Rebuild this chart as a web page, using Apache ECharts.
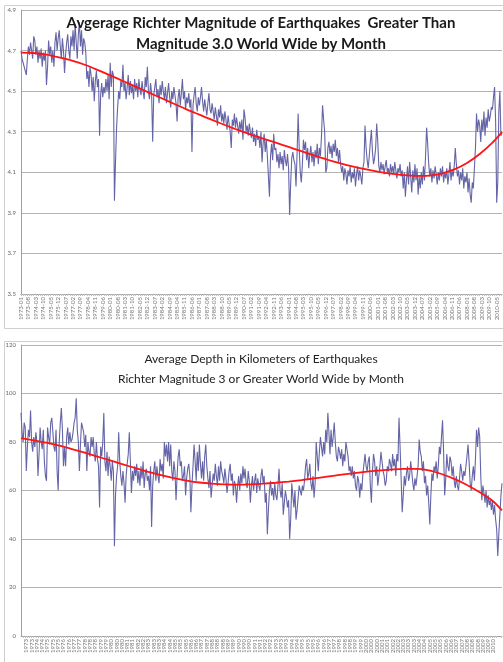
<!DOCTYPE html>
<html>
<head>
<meta charset="utf-8">
<script src="https://cdn.jsdelivr.net/npm/echarts@6/dist/echarts.min.js"></script>
<style>
html,body{margin:0;padding:0;background:#fff;}
#c{width:503px;height:662px;}
</style>
</head>
<body>
<div id="c"></div>
<script>
// ---- data (monthly, starting 1973-01) ----
const START_YEAR = 1973;
const titleTop = ['Avgerage Richter Magnitude of Earthquakes  Greater Than', 'Magnitude 3.0 World Wide by Month'];
const titleBottom = ['Average Depth in Kilometers of Earthquakes', 'Richter Magnitude 3 or Greater World Wide by Month'];

const magnitude = [
  4.70,4.66,4.64,4.62,4.60,4.58,4.66,4.72,4.68,4.74,4.70,4.66, // 1973
  4.77,4.75,4.68,4.72,4.64,4.70,4.66,4.71,4.62,4.69,4.65,4.70, // 1974
  4.53,4.62,4.75,4.68,4.72,4.64,4.70,4.62,4.74,4.79,4.70,4.76, // 1975
  4.80,4.72,4.66,4.76,4.70,4.59,4.68,4.74,4.78,4.70,4.66,4.77, // 1976
  4.72,4.80,4.70,4.83,4.74,4.66,4.78,4.84,4.72,4.80,4.68,4.76, // 1977
  4.74,4.69,4.56,4.60,4.52,4.62,4.58,4.50,4.57,4.45,4.55,4.60, // 1978
  4.52,4.56,4.28,4.48,4.54,4.47,4.52,4.49,4.56,4.50,4.58,4.46, // 1979
  4.64,4.52,4.60,4.58,3.96,4.15,4.32,4.42,4.50,4.46,4.55,4.52, // 1980
  4.63,4.50,4.54,4.46,4.52,4.58,4.48,4.55,4.49,4.53,4.46,4.56, // 1981
  4.50,4.54,4.47,4.56,4.51,4.48,4.55,4.50,4.46,4.57,4.52,4.62, // 1982
  4.50,4.46,4.54,4.49,4.25,4.48,4.52,4.56,4.47,4.51,4.44,4.53, // 1983
  4.48,4.55,4.50,4.46,4.52,4.44,4.49,4.54,4.47,4.42,4.50,4.46, // 1984
  4.52,4.48,4.44,4.35,4.47,4.51,4.43,4.49,4.56,4.46,4.50,4.41, // 1985
  4.47,4.44,4.49,4.42,4.46,4.20,4.43,4.48,4.52,4.44,4.40,4.47, // 1986
  4.43,4.47,4.52,4.45,4.40,4.46,4.42,4.38,4.44,4.49,4.41,4.39, // 1987
  4.44,4.40,4.36,4.42,4.38,4.33,4.41,4.37,4.43,4.35,4.39,4.34, // 1988
  4.40,4.36,4.31,4.38,4.34,4.30,4.22,4.36,4.33,4.39,4.32,4.37, // 1989
  4.33,4.29,4.35,4.31,4.36,4.26,4.41,4.37,4.30,4.33,4.28,4.34, // 1990
  4.30,4.27,4.32,4.25,4.29,4.23,4.31,4.26,4.28,4.22,4.30,4.15, // 1991
  4.24,4.29,4.20,4.26,4.18,4.08,3.98,4.18,4.24,4.16,4.29,4.21, // 1992
  4.22,4.15,4.19,4.12,4.20,4.14,4.18,4.11,4.21,4.16,4.13,4.19, // 1993
  4.12,3.89,4.05,4.17,4.20,4.16,4.14,4.03,4.19,4.39,4.22,4.10, // 1994
  4.05,4.14,4.26,4.21,4.25,4.16,4.22,4.12,4.19,4.23,4.15,4.20, // 1995
  4.13,4.21,4.17,4.24,4.14,4.22,4.18,4.28,4.43,4.36,4.30,4.10, // 1996
  4.12,4.22,4.25,4.19,4.23,4.17,4.24,4.20,4.26,4.18,4.22,4.15, // 1997
  4.21,4.14,4.10,4.13,4.06,4.12,4.09,4.04,4.11,4.08,4.13,4.05, // 1998
  4.10,4.07,4.12,4.03,4.09,4.13,4.06,4.11,4.08,4.04,4.12,4.15, // 1999
  4.33,4.22,4.16,4.12,4.18,4.25,4.31,4.20,4.14,4.17,4.22,4.34, // 2000
  4.25,4.13,4.10,4.15,4.11,4.14,4.09,4.13,4.16,4.10,4.12,4.08, // 2001
  4.14,4.10,4.13,4.09,4.15,4.11,4.07,4.12,4.10,4.14,4.08,4.11, // 2002
  4.02,4.10,3.98,4.06,4.13,4.04,4.15,4.08,4.00,4.11,4.05,4.14, // 2003
  4.06,4.12,3.99,4.08,4.02,4.10,4.04,4.13,4.06,4.18,4.32,4.24, // 2004
  4.14,4.08,4.12,4.05,4.11,4.07,4.13,4.09,4.04,4.10,4.06,4.12, // 2005
  4.08,4.13,4.05,4.10,4.07,4.12,4.04,4.09,4.15,4.06,4.11,4.08, // 2006
  4.13,4.22,4.14,4.08,4.11,4.04,4.10,4.06,4.12,4.02,4.08,4.05, // 2007
  4.10,4.00,4.07,3.99,3.95,4.05,4.02,4.12,4.22,4.39,4.30,4.36, // 2008
  4.33,4.25,4.36,4.30,4.40,4.28,4.37,4.32,4.41,4.35,4.38,4.42, // 2009
  4.41,4.47,4.52,4.35,3.95,4.05,4.40,4.50,4.28,4.30            // 2010
];

// polynomial trend line, read once per year (January) plus the last month
const magnitudeTrend = [4.690,4.688,4.680,4.666,4.650,4.630,4.605,4.578,4.550,4.522,4.494,4.466,4.438,4.410,4.384,4.358,
  4.333,4.309,4.287,4.266,4.246,4.225,4.204,4.183,4.163,4.145,4.129,4.115,4.103,4.093,4.086,4.082,4.084,4.094,4.114,4.146,
  4.190,4.246,4.298];

const depth = [
  92,84,80,88,86,68,78,85,82,93,80,76, // 1973
  82,78,84,80,66,75,86,80,77,85,72,66, // 1974
  64,86,82,79,88,90,84,78,76,85,68,60, // 1975
  80,88,94,85,70,78,70,82,86,79,84,80, // 1976
  81,84,88,90,98,85,80,68,79,88,86,84, // 1977
  78,83,68,80,76,74,82,78,82,75,72,80, // 1978
  73,70,53,78,74,80,92,72,68,76,66,74, // 1979
  70,64,72,68,37,58,66,70,84,72,66,62, // 1980
  68,63,55,66,71,75,84,72,59,68,64,70, // 1981
  66,71,63,68,62,70,65,72,61,67,69,64, // 1982
  66,60,70,45,62,68,72,64,70,66,63,73, // 1983
  68,71,65,80,74,79,72,80,70,79,68,64, // 1984
  72,68,56,66,74,77,70,72,64,66,70,58, // 1985
  65,69,71,66,51,62,70,79,72,64,76,68, // 1986
  79,71,65,72,64,74,79,70,65,61,68,57, // 1987
  62,67,64,71,66,62,70,64,72,68,66,63, // 1988
  69,65,59,63,68,71,64,67,58,64,62,55, // 1989
  62,66,60,67,63,70,65,69,63,61,68,64, // 1990
  55,62,66,60,64,67,59,65,62,60,66,69, // 1991
  63,66,55,59,42,52,60,64,58,61,56,63, // 1992
  58,56,62,69,60,57,63,50,55,60,57,53, // 1993
  56,40,48,63,58,53,60,48,52,57,62,60, // 1994
  58,62,60,64,70,73,65,67,71,63,60,66, // 1995
  57,63,80,74,68,76,82,78,74,80,75,85, // 1996
  80,92,84,75,85,78,82,88,80,74,72,78, // 1997
  76,73,77,70,75,72,80,77,74,68,70,66, // 1998
  70,65,68,62,60,66,64,57,63,60,67,71, // 1999
  75,70,68,72,74,62,55,68,75,72,66,70, // 2000
  62,66,70,76,72,68,66,62,64,70,68,73, // 2001
  71,68,75,70,73,66,75,72,90,78,65,51, // 2002
  58,66,62,67,70,64,66,72,68,63,60,65, // 2003
  62,66,70,81,76,74,68,72,63,66,58,62, // 2004
  55,46,58,67,64,70,68,72,65,70,78,75, // 2005
  82,89,76,58,65,75,70,68,74,72,66,70, // 2006
  64,61,66,62,60,65,71,68,64,68,66,70, // 2007
  74,79,72,63,60,66,70,64,73,85,78,86, // 2008
  82,66,56,62,59,55,60,53,58,54,56,52, // 2009
  56,50,54,48,44,33,42,50,58,63        // 2010
];

const depthTrend = [81.6,80.7,79.7,78.5,77.1,75.6,74.0,72.4,70.8,69.2,67.7,66.3,65.1,64.1,63.3,62.8,62.5,62.4,62.5,62.8,
  63.2,63.7,64.3,65.0,65.7,66.4,67.1,67.7,68.2,68.6,68.9,68.9,68.3,66.8,64.8,62.3,59.3,55.8,51.8];

const magTicks = {min: 3.5, max: 4.9, interval: 0.2};
const depthTicks = {min: 0, max: 120, interval: 20};

// ---- build ----
const months = magnitude.map((_, i) => (START_YEAR + Math.floor(i / 12)) + '-' + String(i % 12 + 1).padStart(2, '0'));
const N = months.length;
const trendPairs = arr => arr.map((v, k) => [months[Math.min(k * 12, N - 1)], v]);

const FONT = 'Lato, "Open Sans", sans-serif';
const gridColor = '#b4b4b4';
const dataColor = '#6464a6';
const trendColor = '#ff1414';

function xAxis(gridIndex, interval, fmt) {
  return {
    type: 'category', gridIndex, data: months, boundaryGap: false,
    axisLine: {lineStyle: {color: '#a0a0a0', width: 1}},
    axisTick: {show: true, interval: 1, length: 2, lineStyle: {color: '#c0c0c0'}},
    axisLabel: {interval, rotate: 90, fontSize: 6, color: '#777', margin: 3, fontFamily: FONT, formatter: fmt},
    splitLine: {show: false}
  };
}
function yAxis(gridIndex, t, fmt) {
  return {
    type: 'value', gridIndex, min: t.min, max: t.max, interval: t.interval,
    axisLine: {show: true, lineStyle: {color: '#a0a0a0'}},
    axisTick: {show: false},
    axisLabel: {fontSize: 6, color: '#666', margin: 5, fontFamily: FONT, formatter: fmt},
    splitLine: {show: true, lineStyle: {color: gridColor, width: 1}}
  };
}

const chart = echarts.init(document.getElementById('c'), null, {renderer: 'canvas'});
chart.setOption({
  animation: false,
  backgroundColor: '#ffffff',
  title: [
    {text: titleTop.join('\n'), left: 256, top: 8, textAlign: 'center',
     textStyle: {fontSize: 15, fontWeight: 'bold', color: '#1a1a1a', lineHeight: 21, fontFamily: FONT}},
    {text: titleBottom.join('\n'), left: 256, top: 344, textAlign: 'center',
     textStyle: {fontSize: 12, fontWeight: 'normal', color: '#222', lineHeight: 20, fontFamily: FONT}}
  ],
  graphic: [
    {type: 'rect', z: -10, shape: {x: 4.5, y: 5.5, width: 520, height: 323}, style: {fill: 'none', stroke: '#cfcfcf', lineWidth: 1}},
    {type: 'rect', z: -10, shape: {x: 4.5, y: 341.5, width: 520, height: 340}, style: {fill: 'none', stroke: '#cfcfcf', lineWidth: 1}}
  ],
  grid: [
    {left: 21, right: 1, top: 10, height: 284},
    {left: 21, right: 1, top: 345, height: 291}
  ],
  xAxis: [
    xAxis(0, 6, v => v),
    xAxis(1, 4, v => v.slice(0, 4))
  ],
  yAxis: [
    yAxis(0, magTicks, v => v.toFixed(1)),
    yAxis(1, depthTicks, v => String(Math.round(v)))
  ],
  series: [
    {type: 'line', xAxisIndex: 0, yAxisIndex: 0, data: magnitude, showSymbol: false, lineStyle: {color: dataColor, width: 1.1}, z: 2},
    {type: 'line', xAxisIndex: 0, yAxisIndex: 0, data: trendPairs(magnitudeTrend), smooth: 0.3, showSymbol: false, lineStyle: {color: trendColor, width: 1.8}, z: 3},
    {type: 'line', xAxisIndex: 1, yAxisIndex: 1, data: depth, showSymbol: false, lineStyle: {color: dataColor, width: 1.1}, z: 2},
    {type: 'line', xAxisIndex: 1, yAxisIndex: 1, data: trendPairs(depthTrend), smooth: 0.3, showSymbol: false, lineStyle: {color: trendColor, width: 1.8}, z: 3}
  ]
});
</script>
</body>
</html>
